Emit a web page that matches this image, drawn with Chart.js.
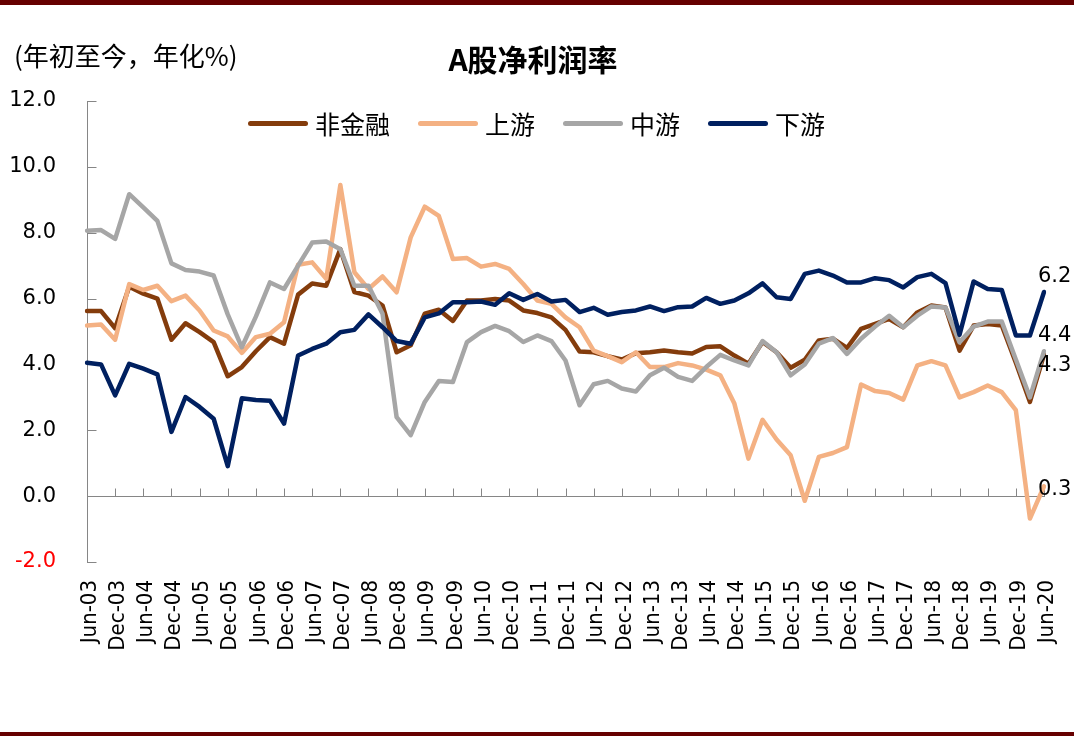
<!DOCTYPE html>
<html>
<head>
<meta charset="utf-8">
<script src="https://cdn.jsdelivr.net/npm/chart.js@4.4.0/dist/chart.umd.min.js"></script>
<style>
  html, body { margin: 0; padding: 0; background: #fff; overflow: hidden; }
  #wrap { position: relative; width: 1074px; height: 736px; }
  #wrap canvas { position: absolute; left: 0; top: 0; }
  .band { position: absolute; left: 0; width: 1074px; background: #660000; }
  .cjk { position: absolute; font-family: "Noto Sans CJK SC", sans-serif; color: #000; white-space: nowrap; }
  #title { left: 0; width: 1066px; top: 40px; line-height: 36px; text-align: center; font-size: 30px; font-weight: bold; }
  #unit { left: 14px; top: 37px; line-height: 36px; font-size: 26px; }
  #legend { left: 248px; top: 105px; height: 36px; display: flex; align-items: center; }
  .item { display: flex; align-items: center; margin-right: 28px; font-size: 25px; line-height: 36px; }
  .swatch { width: 60px; height: 5px; border-radius: 3px; margin-right: 7px; }
</style>
</head>
<body>
<div id="wrap">
  <canvas id="marginChart" width="1074" height="736"></canvas>
  <div class="band" style="top:0;height:5px"></div>
  <div class="band" style="bottom:0;height:4px"></div>
  <div id="unit" class="cjk">(年初至今，年化%)</div>
  <div id="title" class="cjk">A股净利润率</div>
  <div id="legend" class="cjk"></div>
</div>
<script>
// quarterly, Jun-03 .. Jun-20
const quarters = [
  'Jun-03','Sep-03','Dec-03','Mar-04','Jun-04','Sep-04','Dec-04','Mar-05','Jun-05','Sep-05','Dec-05',
  'Mar-06','Jun-06','Sep-06','Dec-06','Mar-07','Jun-07','Sep-07','Dec-07','Mar-08','Jun-08','Sep-08','Dec-08',
  'Mar-09','Jun-09','Sep-09','Dec-09','Mar-10','Jun-10','Sep-10','Dec-10','Mar-11','Jun-11','Sep-11','Dec-11',
  'Mar-12','Jun-12','Sep-12','Dec-12','Mar-13','Jun-13','Sep-13','Dec-13','Mar-14','Jun-14','Sep-14','Dec-14',
  'Mar-15','Jun-15','Sep-15','Dec-15','Mar-16','Jun-16','Sep-16','Dec-16','Mar-17','Jun-17','Sep-17','Dec-17',
  'Mar-18','Jun-18','Sep-18','Dec-18','Mar-19','Jun-19','Sep-19','Dec-19','Mar-20','Jun-20'
]

const nonFinancial = [
  5.62, 5.62, 5.1, 6.36, 6.15, 6.0, 4.75, 5.25, 4.98, 4.68, 3.64,
  3.92, 4.4, 4.83, 4.63, 6.12, 6.46, 6.39, 7.5, 6.2, 6.09, 5.79, 4.37,
  4.58, 5.54, 5.66, 5.32, 5.94, 5.94, 5.99, 5.94, 5.64, 5.56, 5.43, 5.05,
  4.39, 4.37, 4.25, 4.15, 4.34, 4.37, 4.42, 4.37, 4.33, 4.53, 4.55, 4.27,
  4.02, 4.68, 4.37, 3.9, 4.14, 4.73, 4.78, 4.5, 5.08, 5.23, 5.38, 5.13,
  5.58, 5.79, 5.73, 4.42, 5.18, 5.23, 5.18, 4.05, 2.86, 4.3
]
const upstream = [
  5.18, 5.21, 4.75, 6.44, 6.26, 6.39, 5.92, 6.09, 5.64, 5.03, 4.85,
  4.35, 4.83, 4.93, 5.28, 7.03, 7.1, 6.6, 9.45, 6.8, 6.29, 6.67, 6.19,
  7.86, 8.79, 8.51, 7.2, 7.23, 6.97, 7.05, 6.9, 6.44, 5.94, 5.84, 5.43,
  5.13, 4.42, 4.25, 4.07, 4.37, 3.92, 3.92, 4.04, 3.97, 3.84, 3.67, 2.81,
  1.14, 2.32, 1.72, 1.24, -0.14, 1.19, 1.31, 1.49, 3.39, 3.19, 3.13, 2.93,
  3.97, 4.1, 3.97, 3.0, 3.16, 3.36, 3.16, 2.61, -0.68, 0.3
]
const midstream = [
  8.06, 8.08, 7.81, 9.17, 8.77, 8.36, 7.07, 6.87, 6.82, 6.7, 5.52,
  4.52, 5.45, 6.49, 6.29, 7.0, 7.7, 7.73, 7.5, 6.39, 6.39, 5.54, 2.4,
  1.85, 2.86, 3.5, 3.47, 4.68, 4.98, 5.17, 5.01, 4.68, 4.88, 4.71, 4.12,
  2.76, 3.4, 3.5, 3.27, 3.18, 3.67, 3.9, 3.62, 3.5, 3.92, 4.29, 4.12,
  3.97, 4.71, 4.37, 3.67, 4.0, 4.63, 4.8, 4.32, 4.78, 5.15, 5.48, 5.13,
  5.48, 5.76, 5.73, 4.67, 5.15, 5.3, 5.3, 4.15, 3.0, 4.4
]
const downstream = [
  4.05, 4.0, 3.06, 4.02, 3.87, 3.7, 1.95, 3.01, 2.71, 2.35, 0.91,
  2.97, 2.92, 2.9, 2.2, 4.27, 4.47, 4.63, 4.98, 5.05, 5.52, 5.13, 4.71,
  4.63, 5.43, 5.55, 5.89, 5.89, 5.91, 5.81, 6.16, 5.96, 6.14, 5.91, 5.96,
  5.59, 5.72, 5.51, 5.59, 5.64, 5.76, 5.62, 5.74, 5.76, 6.02, 5.84, 5.94,
  6.16, 6.46, 6.04, 5.99, 6.75, 6.85, 6.7, 6.49, 6.49, 6.62, 6.56, 6.34,
  6.65, 6.75, 6.47, 4.9, 6.52, 6.29, 6.26, 4.88, 4.88, 6.2
]

const seriesNames = ['非金融', '上游', '中游', '下游']
const seriesColors = ['#843c0c', '#f4b183', '#a6a6a6', '#002060']
const seriesData = [nonFinancial, upstream, midstream, downstream]
// vertical nudge of the end-value labels, px
const endLabelShift = [11, 3, -16, -15]

const datasets = seriesNames.map((name, i) => ({
  label: name,
  data: seriesData[i],
  borderColor: seriesColors[i],
  backgroundColor: seriesColors[i],
  borderWidth: 4.5,
  borderJoinStyle: 'round',
  borderCapStyle: 'round',
  pointRadius: 0,
  tension: 0,
  order: seriesNames.length - i
}))

// legend as html
const legend = document.getElementById('legend')
seriesNames.forEach((name, i) => {
  const item = document.createElement('div')
  item.className = 'item'
  item.innerHTML = '<span class="swatch" style="background:' + seriesColors[i] + '"></span><span>' + name + '</span>'
  legend.appendChild(item)
})

const axisLines = {
  id: 'axisLines',
  beforeDatasetsDraw(chart) {
    const { ctx, chartArea: a, scales: { x, y } } = chart
    const y0 = Math.round(y.getPixelForValue(0)) + 0.5
    const left = Math.round(a.left) + 0.5
    ctx.save()
    ctx.strokeStyle = '#868686'
    ctx.lineWidth = 1
    ctx.beginPath()
    ctx.moveTo(left, Math.round(a.top))
    ctx.lineTo(left, Math.round(a.bottom) + 1)
    y.ticks.forEach(t => {
      const py = Math.round(y.getPixelForValue(t.value)) + 0.5
      ctx.moveTo(left, py)
      ctx.lineTo(left + 9, py)
    })
    ctx.moveTo(left, y0)
    ctx.lineTo(Math.round(a.right) + 1, y0)
    for (let i = 0; i < quarters.length; i += 2) {
      const px = Math.round(x.getPixelForValue(i)) + 0.5
      ctx.moveTo(px, y0)
      ctx.lineTo(px, y0 - 8)
    }
    ctx.stroke()
    ctx.restore()
  }
}

const endLabels = {
  id: 'endLabels',
  afterDatasetsDraw(chart) {
    const ctx = chart.ctx
    ctx.save()
    ctx.font = '21px "DejaVu Sans"'
    ctx.fillStyle = '#000'
    ctx.textAlign = 'left'
    ctx.textBaseline = 'middle'
    chart.data.datasets.forEach((ds, i) => {
      const pts = chart.getDatasetMeta(i).data
      const last = pts[pts.length - 1]
      const v = ds.data[ds.data.length - 1]
      ctx.fillText(v.toFixed(1), last.x - 6, last.y + endLabelShift[i])
    })
    ctx.restore()
  }
}

new Chart(document.getElementById('marginChart'), {
  type: 'line',
  data: { labels: quarters, datasets },
  options: {
    responsive: false,
    devicePixelRatio: 1,
    animation: false,
    layout: { padding: { top: 101, right: 30, left: 0, bottom: 0 } },
    plugins: {
      legend: { display: false },
      tooltip: { enabled: false },
      title: { display: false }
    },
    scales: {
      x: {
        type: 'category',
        offset: false,
        grid: { display: false, drawTicks: false },
        border: { display: false },
        ticks: {
          autoSkip: false,
          minRotation: 90,
          maxRotation: 90,
          padding: 18,
          labelOffset: 3,
          color: '#000',
          font: { family: '"DejaVu Sans Condensed", "DejaVu Sans"', size: 22 },
          callback: function (v, i) { return i % 2 === 0 ? this.getLabelForValue(v) : '' }
        },
        afterFit: s => { s.height = 174; s.paddingLeft = 0; s.paddingRight = 0 }
      },
      y: {
        min: -2,
        max: 12,
        grid: { display: false, drawTicks: false },
        border: { display: false },
        ticks: {
          stepSize: 2,
          padding: 31,
          color: c => c.tick.value < 0 ? '#ff0000' : '#000',
          font: { family: '"DejaVu Sans"', size: 21 },
          callback: v => v.toFixed(1)
        },
        afterFit: s => { s.width = 87; s.paddingTop = 0; s.paddingBottom = 0 }
      }
    }
  },
  plugins: [axisLines, endLabels]
})
</script>
</body>
</html>
